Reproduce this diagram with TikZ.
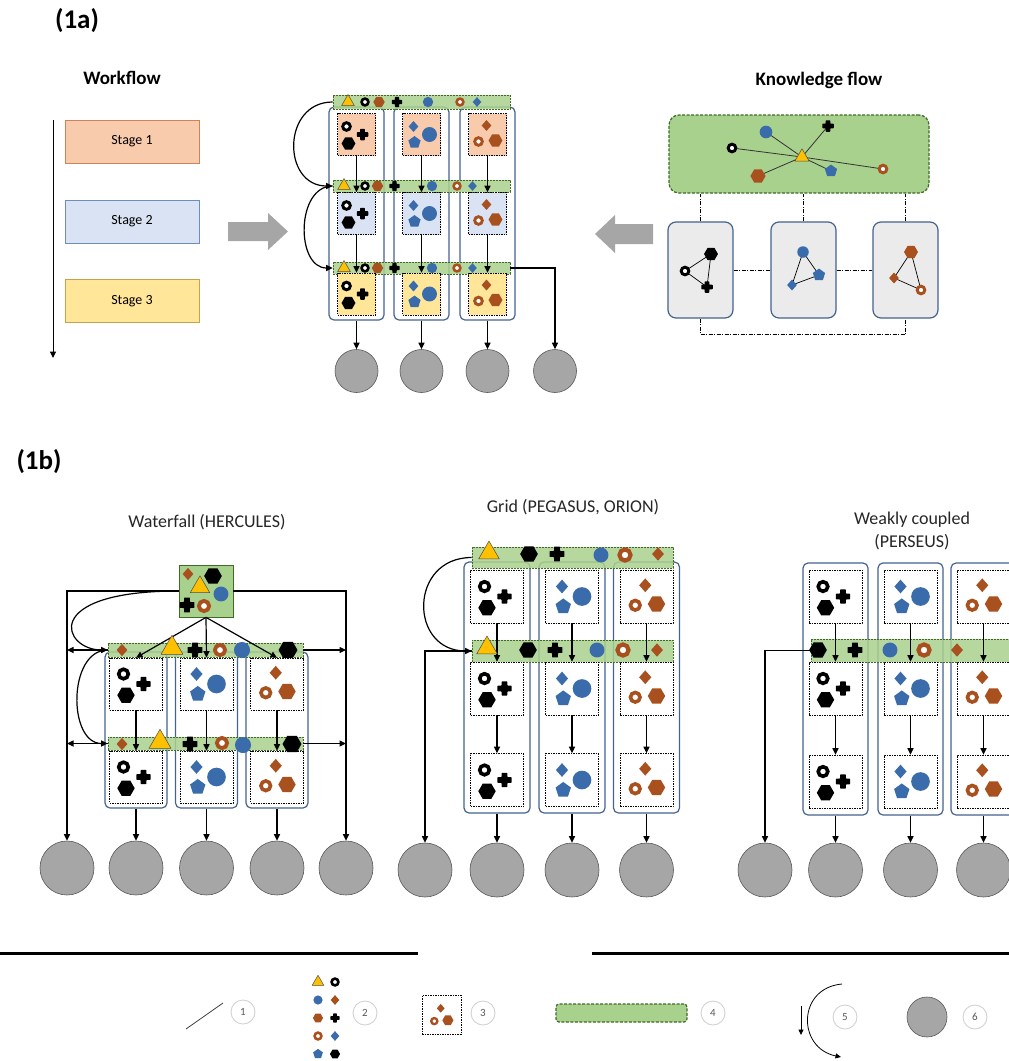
\documentclass[tikz,border=0pt]{standalone}
\usepackage{fontspec}
\setmainfont{Carlito}
\usetikzlibrary{arrows.meta,calc}

\definecolor{cblue}{HTML}{3A6BAA}
\definecolor{cbrown}{HTML}{A9501F}
\definecolor{corange}{HTML}{FFC000}
\definecolor{gfill}{HTML}{A9D18E}
\definecolor{gdark}{HTML}{3F6B25}
\definecolor{contc}{HTML}{44638F}
\definecolor{circfill}{HTML}{A6A6A6}
\definecolor{s1fill}{HTML}{F8CBAD}
\definecolor{s1line}{HTML}{C9845A}
\definecolor{s2fill}{HTML}{DAE3F3}
\definecolor{s2line}{HTML}{6F8DBA}
\definecolor{s3fill}{HTML}{FFE699}
\definecolor{s3line}{HTML}{C8A24A}
\definecolor{kbox}{HTML}{EBEBEB}
\definecolor{numgray}{HTML}{595959}
\definecolor{arrgray}{HTML}{A6A6A6}

% ---------- symbols ----------
\newcommand\symring[2]{\draw[#2, line width=#1*0.28pt, fill=white] (0,0) circle[radius=#1*0.37pt];}
\newcommand\symdisc[2]{\fill[#2] (0,0) circle[radius=#1*0.5pt];}
\newcommand\symhex[2]{\begin{scope}[scale=#1/10]\fill[#2] (0:5.5pt) -- (60:5.5pt) -- (120:5.5pt) -- (180:5.5pt) -- (240:5.5pt) -- (300:5.5pt) -- cycle;\end{scope}}
\newcommand\sympent[2]{\begin{scope}[scale=#1/10]\fill[#2] (90:5.6pt) -- (162:5.6pt) -- (234:5.6pt) -- (306:5.6pt) -- (18:5.6pt) -- cycle;\end{scope}}
\newcommand\symdiam[2]{\begin{scope}[scale=#1/10]\fill[#2] (0pt,5.3pt) -- (4.7pt,0pt) -- (0pt,-5.3pt) -- (-4.7pt,0pt) -- cycle;\end{scope}}
\newcommand\symcross[2]{\begin{scope}[scale=#1/10]\fill[#2,rounded corners=0.6pt] (-2pt,5pt) -- (2pt,5pt) -- (2pt,2pt) -- (5pt,2pt) -- (5pt,-2pt) -- (2pt,-2pt) -- (2pt,-5pt) -- (-2pt,-5pt) -- (-2pt,-2pt) -- (-5pt,-2pt) -- (-5pt,2pt) -- (-2pt,2pt) -- cycle;\end{scope}}
\newcommand\symtri[2]{\begin{scope}[scale=#1/10]\filldraw[fill=corange, draw=#2, line width=0.5pt, line join=round] (90:6.5pt) -- (210:6.5pt) -- (330:6.5pt) -- cycle;\end{scope}}
\newcommand\SYM[4]{\begin{scope}[shift={#2}]\csname sym#1\endcsname{(#3)*1.15}{#4}\end{scope}}

\newcommand\setK[2]{\begin{scope}[shift={#1}]%
\SYM{ring}{(-10*#2,-8*#2)}{9*#2}{black}%
\SYM{cross}{(6*#2,0)}{10*#2}{black}%
\SYM{hex}{(-8*#2,9*#2)}{11*#2}{black}%
\end{scope}}
\newcommand\setB{}
\renewcommand\setB[2]{\begin{scope}[shift={#1}]%
\SYM{diam}{(-8*#2,-8*#2)}{9*#2}{cblue}%
\SYM{disc}{(8*#2,0)}{13*#2}{cblue}%
\SYM{pent}{(-7*#2,8*#2)}{10*#2}{cblue}%
\end{scope}}
\newcommand\setR[2]{\begin{scope}[shift={#1}]%
\SYM{diam}{(-1*#2,-9*#2)}{9*#2}{cbrown}%
\SYM{ring}{(-9*#2,7*#2)}{9*#2}{cbrown}%
\SYM{hex}{(8*#2,6*#2)}{11*#2}{cbrown}%
\end{scope}}

\tikzset{
  stg/.style={draw, line width=0.8pt, minimum width=134pt, minimum height=43pt, inner sep=0pt, font=\fontsize{14}{16}\selectfont},
  cont/.style={draw=contc, line width=1.2pt, rounded corners=5pt, inner sep=0pt},
  bx/.style={draw=black, dash pattern=on 1.5pt off 1pt, line width=0.6pt, inner sep=0pt},
  gbar/.style={draw=gdark, fill=gfill, fill opacity=0.85, dash pattern=on 2pt off 1pt, line width=0.6pt, inner sep=0pt},
  outc/.style={circle, draw=gray!70!black, fill=circfill, line width=0.6pt, inner sep=0pt},
  myarr/.style={-{Triangle[length=6.5pt,width=6pt]}, line width=1.2pt},
  thinarr/.style={-{Triangle[length=5.5pt,width=5pt]}, line width=0.8pt},
  numc/.style={circle, draw=gray!35, line width=0.9pt, fill=white, minimum size=24pt, inner sep=0pt, text=numgray, font=\fontsize{11}{12}\selectfont},
  ttl/.style={font=\fontsize{19}{22}\selectfont\bfseries},
  big/.style={font=\fontsize{27}{30}\selectfont\bfseries},
  sub/.style={font=\fontsize{18}{23}\selectfont, text=black!85},
  dashdot/.style={dash pattern=on 4pt off 1.5pt on 1pt off 1.5pt, line width=0.7pt}
}

\begin{document}
\begin{tikzpicture}[x=1pt,y=-1pt]
\useasboundingbox (0,0) rectangle (1009,1061);
\clip (0,0) rectangle (1009,1061);

% ================= (1a) =================
\node[big] (t1a) at (77,21) {(1a)};
\node[ttl] (twf) at (122,78) {Workflow};
\node[ttl] (tkf) at (819,80) {Knowledge flow};

\node[stg, fill=s1fill, draw=s1line] (st1) at (132,141.5) {Stage 1};
\node[stg, fill=s2fill, draw=s2line] (st2) at (132,221.5) {Stage 2};
\node[stg, fill=s3fill, draw=s3line] (st3) at (132,301) {Stage 3};
\coordinate (wfa) at (53,120);
\coordinate (wfb) at (53,358);
\draw[myarr, line width=1pt] (wfa) -- (wfb);

% grey block arrows
\fill[arrgray] (228,222) -- (268,222) -- (268,213) -- (288,231.5) -- (268,250) -- (268,241) -- (228,241) -- cycle;
\fill[arrgray] (653,224) -- (615,224) -- (615,215) -- (595,234) -- (615,253) -- (615,244) -- (653,244) -- cycle;

% middle
\foreach \c/\x in {1/356.5,2/421.5,3/487.5}
  \node[cont, minimum width=55pt, minimum height=213pt] (mc\c) at (\x,213.5) {};
\node[gbar, minimum width=177pt, minimum height=14pt] (mb1) at (421.5,102) {};
\node[gbar, minimum width=177pt, minimum height=12pt] (mb2) at (421.5,186) {};
\node[gbar, minimum width=177pt, minimum height=12pt] (mb3) at (421.5,268) {};
\foreach \r/\y/\f in {1/134.5/s1fill,2/213.5/s2fill,3/294/s3fill}
  \foreach \c/\x in {1/356.5,2/421.5,3/487.5}
    \node[bx, fill=\f, minimum width=38pt, minimum height=42pt] (m\r\c) at (\x,\y) {};
\foreach \c/\x in {1/356.5,2/421.5,3/487.5}
  \node[outc, minimum size=43pt] (mo\c) at (\x,371) {};
\node[outc, minimum size=43pt] (mo4) at (555,371) {};
\foreach \c in {1,2,3}{
  \draw[myarr] (m1\c.south) -- (m2\c.north);
  \draw[myarr] (m2\c.south) -- (m3\c.north);
  \draw[myarr] (mc\c.south) -- (mo\c.north);
}
\draw[myarr] (mb3.east) -| (mo4.north);
\draw[myarr] (mb1.west) .. controls +(-51,0) and +(-51,0) .. (mb2.west);
\draw[myarr] (mb2.west) .. controls +(-37,0) and +(-37,0) .. (mb3.west);
\foreach \y in {134.5,213.5,294}{
  \setK{(356.5,\y)}{1}
  \setB{(421.5,\y)}{1}
  \setR{(487.5,\y)}{1}
}
% bar symbols 1a
\SYM{tri}{(348,102)}{10}{black!70}
\SYM{ring}{(365,102)}{8}{black}
\SYM{hex}{(379,102)}{9}{cbrown}
\SYM{cross}{(397,102)}{9}{black}
\SYM{disc}{(428,102)}{9}{cblue}
\SYM{ring}{(460,102)}{8}{cbrown}
\SYM{diam}{(477,102)}{8}{cblue}
\foreach \y in {186,268}{
  \SYM{tri}{(344,\y)}{10}{black!70}
  \SYM{ring}{(365,\y)}{8}{black}
  \SYM{hex}{(377.5,\y)}{9}{cbrown}
  \SYM{cross}{(394.5,\y)}{9}{black}
  \SYM{disc}{(432,\y)}{9}{cblue}
  \SYM{ring}{(457,\y)}{8}{cbrown}
  \SYM{diam}{(472.5,\y)}{8}{cblue}
}

% knowledge flow
\node[draw=gdark, fill=gfill, dash pattern=on 3pt off 1.5pt, line width=1.2pt, rounded corners=10pt, minimum width=260pt, minimum height=78pt, inner sep=0pt] (kg) at (799,154) {};
\foreach \i/\x in {1/700.5,2/803.5,3/905.5}
  \node[draw=contc, fill=kbox, line width=1.2pt, rounded corners=8pt, minimum width=65pt, minimum height=96pt, inner sep=0pt] (kb\i) at (\x,270) {};
\foreach \i in {1,2,3}
  \draw[dashdot] (kb\i.north) -- (kb\i.north |- kg.south);
\draw[dashdot] (kb1.east) -- (kb2.west);
\draw[dashdot] (kb2.east) -- (kb3.west);
\draw[dashdot] (kb1.south) -- ++(0,16) -| (kb3.south);

\coordinate (kt) at (802,157);
\coordinate (k1) at (732,148);
\coordinate (k2) at (766,132);
\coordinate (k3) at (828,126);
\coordinate (k4) at (758,176);
\coordinate (k5) at (831,171);
\coordinate (k6) at (883,169);
\foreach \i in {1,...,6} \draw[line width=0.8pt, black!80] (kt) -- (k\i);
\SYM{ring}{(k1)}{9}{black}
\SYM{disc}{(k2)}{11}{cblue}
\SYM{cross}{(k3)}{10}{black}
\SYM{hex}{(k4)}{12}{cbrown}
\SYM{pent}{(k5)}{10}{cblue}
\SYM{ring}{(k6)}{9}{cbrown}
\SYM{tri}{(kt)}{11}{black!70}

\coordinate (a1) at (685,271); \coordinate (a2) at (711,254); \coordinate (a3) at (707,287);
\draw[line width=0.7pt] (a1) -- (a2) -- (a3) -- cycle;
\SYM{ring}{(a1)}{9}{black}\SYM{hex}{(a2)}{11}{black}\SYM{cross}{(a3)}{10}{black}
\coordinate (b1) at (803,252); \coordinate (b2) at (819,275); \coordinate (b3) at (792,285);
\draw[line width=0.7pt] (b1) -- (b2) -- (b3) -- cycle;
\SYM{disc}{(b1)}{10}{cblue}\SYM{pent}{(b2)}{10}{cblue}\SYM{diam}{(b3)}{9}{cblue}
\coordinate (c1) at (911,252); \coordinate (c2) at (894,278); \coordinate (c3) at (921,290);
\draw[line width=0.7pt] (c1) -- (c2) -- (c3) -- cycle;
\SYM{hex}{(c1)}{11}{cbrown}\SYM{diam}{(c2)}{9}{cbrown}\SYM{ring}{(c3)}{9}{cbrown}

% ================= (1b) =================
\node[big] (t1b) at (39,462) {(1b)};
\node[sub] (ttw) at (207,522) {Waterfall (HERCULES)};
\node[sub] (ttg) at (573,507) {Grid (PEGASUS, ORION)};
\node[sub, align=center] (ttp) at (912,531) {Weakly coupled\\(PERSEUS)};

% ---- Waterfall ----
\foreach \c/\x in {1/136,2/206.5,3/277}
  \node[cont, minimum width=62pt, minimum height=156pt] (wc\c) at (\x,730) {};
\node[gbar, minimum width=195pt, minimum height=14pt] (wb1) at (205.5,650) {};
\node[gbar, minimum width=195pt, minimum height=13pt] (wb2) at (205.5,743.5) {};
\foreach \r/\y in {1/684,2/777}
  \foreach \c/\x in {1/136,2/206.5,3/277}
    \node[bx, fill=white, minimum width=53pt, minimum height=52pt] (w\r\c) at (\x,\y) {};
\node[draw=gdark, fill=gfill, line width=0.7pt, minimum width=54pt, minimum height=52pt, inner sep=0pt] (wtop) at (206,591) {};
\node[outc, minimum size=54pt] (wo1) at (67,868) {};
\node[outc, minimum size=54pt] (wo2) at (136,868) {};
\node[outc, minimum size=54pt] (wo3) at (206.5,868) {};
\node[outc, minimum size=54pt] (wo4) at (277,868) {};
\node[outc, minimum size=54pt] (wo5) at (346,868) {};
\draw[myarr] (wtop.west) -| (wo1.north);
\draw[myarr] (wtop.east) -| (wo5.north);
\draw[myarr] (wtop.west) .. controls +(-140,0) and +(-45,0) .. (wb1.west);
\draw[myarr] (wb1.west) .. controls +(-40,0) and +(-40,0) .. (wb2.west);
\foreach \r in {1,2}{
  \draw[myarr] (wb\r.west) -- (wb\r.west -| wo1.north);
  \draw[myarr] (wb\r.east) -- (wb\r.east -| wo5.north);
}
\foreach \c in {1,2,3}{
  \draw[myarr] (wtop.south) -- (w1\c.north);
  \draw[myarr] (w1\c.south) -- (w2\c.north);
}
\draw[myarr] (wc1.south) -- (wo2.north);
\draw[myarr] (wc2.south) -- (wo3.north);
\draw[myarr] (wc3.south) -- (wo4.north);
\foreach \y in {684,777}{
  \setK{(136,\y)}{1.25}
  \setB{(206.5,\y)}{1.25}
  \setR{(277,\y)}{1.25}
}
\SYM{diam}{(188,574)}{10}{cbrown}
\SYM{hex}{(213,576)}{14}{black}
\SYM{disc}{(221,594)}{13}{cblue}
\SYM{cross}{(187,605)}{13}{black}
\SYM{ring}{(204,606)}{12}{cbrown}
\SYM{tri}{(200,587)}{15}{black!70}
\SYM{diam}{(122,650)}{10}{cbrown}
\SYM{tri}{(172,648)}{17}{black!70}
\SYM{cross}{(195,650)}{13}{black}
\SYM{ring}{(220,650)}{12}{cbrown}
\SYM{disc}{(242,650)}{14}{cblue}
\SYM{hex}{(288,650)}{15}{black}
\SYM{diam}{(122,744)}{10}{cbrown}
\SYM{tri}{(160,742)}{17}{black!70}
\SYM{cross}{(190,744)}{13}{black}
\SYM{ring}{(222,743)}{12}{cbrown}
\SYM{disc}{(243,745)}{14}{cblue}
\SYM{hex}{(292,744)}{15}{black}

% ---- Grid ----
\foreach \c/\x in {1/497,2/572,3/646.5}
  \node[cont, minimum width=66pt, minimum height=251pt] (gc\c) at (\x,687.5) {};
\node[gbar, minimum width=201pt, minimum height=21pt] (gb1) at (572.5,557.5) {};
\node[gbar, minimum width=201pt, minimum height=22pt] (gb2) at (572.5,651) {};
\foreach \r/\y in {1/596.5,2/688.5,3/780}
  \foreach \c/\x in {1/497,2/572,3/646.5}
    \node[bx, fill=white, minimum width=53pt, minimum height=53pt] (g\r\c) at (\x,\y) {};
\node[outc, minimum size=54pt] (go1) at (425,870) {};
\node[outc, minimum size=54pt] (go2) at (497,870) {};
\node[outc, minimum size=54pt] (go3) at (572,870) {};
\node[outc, minimum size=54pt] (go4) at (646.5,870) {};
\draw[myarr] (gb1.west) .. controls +(-63,0) and +(-63,0) .. (gb2.west);
\draw[myarr] (gb2.west) -| (go1.north);
\foreach \c [evaluate=\c as \d using int(\c+1)] in {1,2,3}{
  \draw[myarr] (g1\c.south) -- (g2\c.north);
  \draw[myarr] (g2\c.south) -- (g3\c.north);
  \draw[myarr] (gc\c.south) -- (go\d.north);
}
\foreach \y in {596.5,688.5,780}{
  \setK{(497,\y)}{1.25}
  \setB{(572,\y)}{1.25}
  \setR{(646.5,\y)}{1.25}
}
\SYM{tri}{(489,553)}{16}{black!70}
\SYM{hex}{(529,554)}{14}{black}
\SYM{cross}{(557,554)}{13}{black}
\SYM{disc}{(601,555)}{13}{cblue}
\SYM{ring}{(625,555)}{13}{cbrown}
\SYM{diam}{(658,554)}{11}{cbrown}
\SYM{tri}{(487,648)}{16}{black!70}
\SYM{hex}{(528,650)}{14}{black}
\SYM{cross}{(555,650)}{13}{black}
\SYM{disc}{(597,650)}{13}{cblue}
\SYM{ring}{(623,650)}{13}{cbrown}
\SYM{diam}{(657,650)}{11}{cbrown}

% ---- Weakly coupled ----
\foreach \c/\x in {1/835.5,2/910.5,3/983.5}
  \node[cont, minimum width=65pt, minimum height=252pt] (pc\c) at (\x,689) {};
\node[gbar, minimum width=204pt, minimum height=23pt] (pb) at (913,650.5) {};
\foreach \r/\y in {1/596.5,2/688.5,3/781.5}
  \foreach \c/\x in {1/835.5,2/910.5,3/983.5}
    \node[bx, fill=white, minimum width=53pt, minimum height=53pt] (p\r\c) at (\x,\y) {};
\node[outc, minimum size=54pt] (po1) at (765,870) {};
\node[outc, minimum size=54pt] (po2) at (835.5,870) {};
\node[outc, minimum size=54pt] (po3) at (910.5,870) {};
\node[outc, minimum size=54pt] (po4) at (983.5,870) {};
\draw[myarr] (pb.west) -| (po1.north);
\foreach \c [evaluate=\c as \d using int(\c+1)] in {1,2,3}{
  \draw[myarr] (p1\c.south) -- (p2\c.north);
  \draw[myarr] (p2\c.south) -- (p3\c.north);
  \draw[myarr] (pc\c.south) -- (po\d.north);
}
\foreach \y in {596.5,688.5,781.5}{
  \setK{(835.5,\y)}{1.25}
  \setB{(910.5,\y)}{1.25}
  \setR{(983.5,\y)}{1.25}
}
\SYM{hex}{(818,650)}{14}{black}
\SYM{cross}{(855,650)}{13}{black}
\SYM{disc}{(890,650)}{13}{cblue}
\SYM{ring}{(924,650)}{13}{cbrown}
\SYM{diam}{(957,650)}{11}{cbrown}

% ================= legend =================
\coordinate (hl1) at (0,953); \coordinate (hl2) at (418,953);
\coordinate (hr1) at (592,953); \coordinate (hr2) at (1009,953);
\draw[line width=3pt] (hl1) -- (hl2);
\draw[line width=3pt] (hr1) -- (hr2);

\coordinate (l1a) at (186,1029); \coordinate (l1b) at (223,1003);
\draw[line width=0.8pt, black!75] (l1a) -- (l1b);
\node[numc] (n1) at (243,1012) {1};

\SYM{tri}{(318,982)}{9}{black!70}   \SYM{ring}{(335,982)}{8}{black}
\SYM{disc}{(318,1000)}{8}{cblue}    \SYM{diam}{(335,1000)}{8}{cbrown}
\SYM{hex}{(318,1018)}{8}{cbrown}    \SYM{cross}{(335,1018)}{8}{black}
\SYM{ring}{(318,1036)}{8}{cbrown}   \SYM{diam}{(335,1036)}{8}{cblue}
\SYM{pent}{(318,1054)}{8}{cblue}    \SYM{hex}{(335,1054)}{8}{black}
\node[numc] (n2) at (365,1013) {2};

\node[bx, fill=white, minimum width=39pt, minimum height=39pt] (lbox) at (441.5,1014.5) {};
\setR{(441.5,1015.5)}{0.8}
\node[numc] (n3) at (483,1013) {3};

\node[draw=gdark, fill=gfill, dash pattern=on 3pt off 1.5pt, line width=1.2pt, rounded corners=3pt, minimum width=131pt, minimum height=18pt, inner sep=0pt] (lbar) at (621.5,1013) {};
\node[numc] (n4) at (713,1013) {4};

\coordinate (l5a) at (801,1006); \coordinate (l5b) at (801,1035);
\draw[thinarr] (l5a) -- (l5b);
\coordinate (l5c) at (842,984); \coordinate (l5d) at (841,1057);
\draw[thinarr] (l5c) .. controls (797,988) and (797,1048) .. (l5d);
\node[numc] (n5) at (845,1017) {5};

\node[outc, minimum size=40pt] (lcirc) at (927,1017) {};
\node[numc] (n6) at (975,1017) {6};

\end{tikzpicture}
\end{document}
